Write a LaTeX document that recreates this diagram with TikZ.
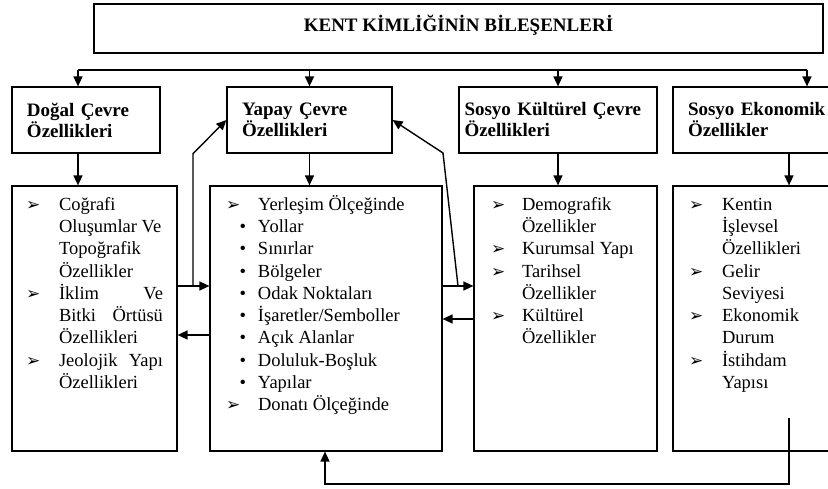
\documentclass[tikz,border=0pt]{standalone}
\usepackage{fontspec}
\setmainfont{Liberation Serif}
\newfontfamily\symfont{DejaVu Sans}
\usetikzlibrary{arrows.meta,calc}

\newcommand\arrmark{{\symfont\fontsize{17}{17}\selectfont ➢}}
\newcommand\bul{\makebox[31pt][r]{•\hspace{11pt}}}
\newcommand\js[1]{\makebox[104pt][s]{#1}}

\begin{document}
\begin{tikzpicture}[x=1pt, y=-1pt, line width=1.2pt,
    hbox/.style={draw, inner sep=0pt, minimum height=66pt, align=left,
      font=\bfseries\fontsize{19}{21}\selectfont},
    lbox/.style={draw, inner sep=0pt, minimum height=265pt},
    ltxt/.style={inner sep=0pt, anchor=north west, font=\fontsize{18.5}{22.3}\selectfont},
    arr/.style={-{Triangle[length=10pt,width=9pt]}, line width=1.4pt}]
    \clip (0,0) rectangle (828,489);

    % draw title box
    \node[draw, inner sep=0pt, minimum width=729pt, minimum height=49pt,
      text height=16pt, text depth=9pt, font=\bfseries\fontsize{19}{21}\selectfont]
      (title) at (458.5,28.5) {KENT KİMLİĞİNİN BİLEŞENLERİ};

    % draw heading boxes
    \node[hbox, minimum width=148pt, text width=118pt] (dogal) at (86,120) {Doğal Çevre\\Özellikleri};
    \node[hbox, minimum width=165pt, text width=135pt] (yapay) at (309.5,120) {Yapay Çevre\\Özellikleri};
    \node[hbox, minimum width=198pt, text width=187pt] (sosyok) at (558,120) {Sosyo Kültürel Çevre\\Özellikleri};
    \node[hbox, minimum width=232pt, text width=202pt] (sosyoe) at (789,120) {Sosyo Ekonomik\\Özellikler};

    % draw list boxes
    \node[lbox, minimum width=165pt] (l1) at (94.5,318.5) {};
    \node[lbox, minimum width=232pt] (l2) at (326,318.5) {};
    \node[lbox, minimum width=183pt] (l3) at (565.5,318.5) {};
    \node[lbox, minimum width=232pt] (l4) at (789,318.5) {};

    % draw list texts
    \node[ltxt] (l1txt) at ($(l1.north west)+(14,8.5)$) {%
      \begin{tabular}{@{}p{33pt}@{}l@{}}
        \arrmark & Coğrafi\\
                 & Oluşumlar Ve\\
                 & Topoğrafik\\
                 & Özellikler\\
        \arrmark & \js{İklim Ve}\\
                 & \js{Bitki Örtüsü}\\
                 & Özellikleri\\
        \arrmark & \js{Jeolojik Yapı}\\
                 & Özellikleri
      \end{tabular}};
    \node[ltxt] (l2txt) at ($(l2.north west)+(16,8.5)$) {%
      \begin{tabular}{@{}p{32pt}@{}l@{}}
        \arrmark & Yerleşim Ölçeğinde\\
        \bul & Yollar\\
        \bul & Sınırlar\\
        \bul & Bölgeler\\
        \bul & Odak Noktaları\\
        \bul & İşaretler/Semboller\\
        \bul & Açık Alanlar\\
        \bul & Doluluk-Boşluk\\
        \bul & Yapılar\\
        \arrmark & Donatı Ölçeğinde
      \end{tabular}};
    \node[ltxt] (l3txt) at ($(l3.north west)+(17,8.5)$) {%
      \begin{tabular}{@{}p{31pt}@{}l@{}}
        \arrmark & Demografik\\
                 & Özellikler\\
        \arrmark & Kurumsal Yapı\\
        \arrmark & Tarihsel\\
                 & Özellikler\\
        \arrmark & Kültürel\\
                 & Özellikler
      \end{tabular}};
    \node[ltxt] (l4txt) at ($(l4.north west)+(16,8.5)$) {%
      \begin{tabular}{@{}p{33pt}@{}l@{}}
        \arrmark & Kentin\\
                 & İşlevsel\\
                 & Özellikleri\\
        \arrmark & Gelir\\
                 & Seviyesi\\
        \arrmark & Ekonomik\\
                 & Durum\\
        \arrmark & İstihdam\\
                 & Yapısı
      \end{tabular}};

    % draw bus line and arrows into heading boxes
    \coordinate (busL) at (78,70);
    \coordinate (busR) at (807,70);
    \draw (busL) -- (busR);
    \draw[arr] (busL) -- (dogal.north -| busL);
    \draw[arr] (yapay.north |- busL) -- (yapay.north);
    \draw[arr] (sosyok.north |- busL) -- (sosyok.north);
    \draw[arr] (busR) -- (sosyoe.north -| busR);

    % draw arrows from headings to lists
    \draw[arr] (dogal.south -| busL) -- (l1.north -| busL);
    \draw[arr] (yapay.south) -- (yapay.south |- l2.north);
    \draw[arr] (sosyok.south) -- (sosyok.south |- l3.north);
    \draw[arr] (sosyoe.south) -- (l4.north);

    % draw side links
    \coordinate (j1) at (193,286);
    \coordinate (j2) at (458,286);
    \coordinate (k2) at (443,153);
    \coordinate (b1) at (0,335);
    \coordinate (b2) at (0,319);
    \draw[arr] (l1.east |- j1) -- (l2.west |- j1);
    \draw[arr] (j1) -- (j1 |- dogal.south) -- (yapay.west);
    \draw[arr] (l2.east |- j2) -- (l3.west |- j2);
    \draw[arr] (j2) -- (k2) -- (yapay.east);
    \draw[arr] (l2.west |- b1) -- (l1.east |- b1);
    \draw[arr] (l3.west |- b2) -- (l2.east |- b2);

    % draw feedback line
    \coordinate (fb) at (789,418);
    \coordinate (fbc) at (325,484);
    \draw[arr] (fb) |- (fbc) -- (fbc |- l2.south);
\end{tikzpicture}
\end{document}
